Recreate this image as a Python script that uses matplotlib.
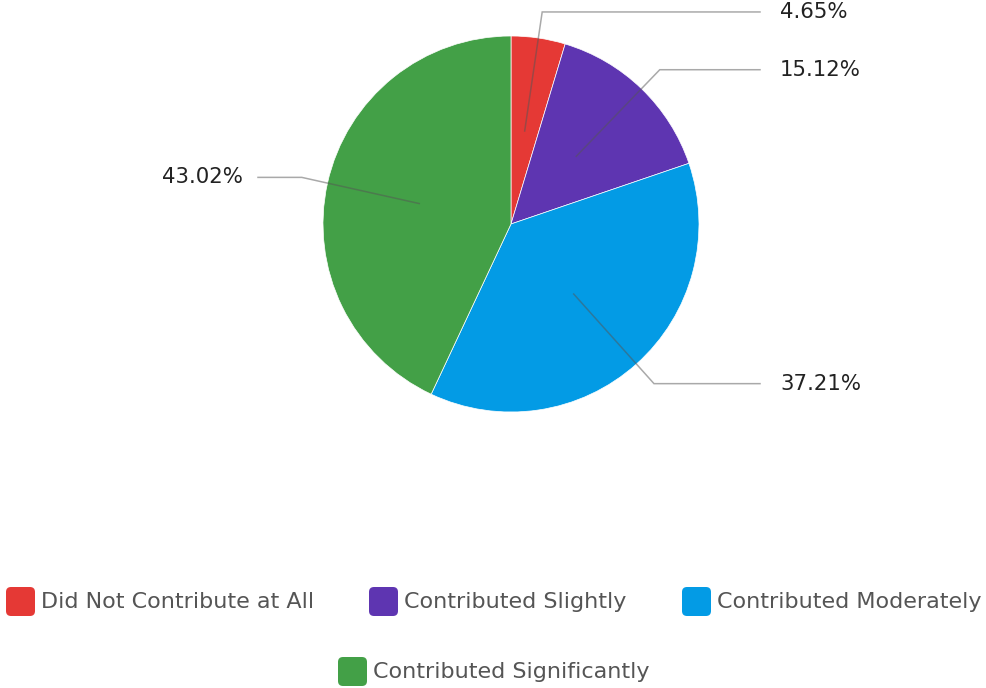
import numpy as np
import matplotlib
matplotlib.use("Agg")
import matplotlib.pyplot as plt
from matplotlib.patches import FancyBboxPatch

categories = [
    "Did Not Contribute at All",
    "Contributed Slightly",
    "Contributed Moderately",
    "Contributed Significantly",
]
shares = [4.65, 15.12, 37.21, 43.02]
labels = ["4.65%", "15.12%", "37.21%", "43.02%"]
colors = ["#E53935", "#5E35B1", "#039BE5", "#43A047"]

plt.rcParams["font.family"] = ["DejaVu Sans"]

W, H = 987, 688
fig = plt.figure(figsize=(W / 100, H / 100), dpi=100)
ax = fig.add_axes([0, 0, 1, 1])

cx, cy, r = 511, H - 224, 188
ax.pie(shares, colors=colors, startangle=90, counterclock=False,
       center=(cx, cy), radius=r, frame=True,
       wedgeprops=dict(linewidth=0.5, edgecolor="white"))
ax.set_xlim(0, W)
ax.set_ylim(0, H)
ax.set_aspect("equal")
ax.axis("off")

# leader lines: from half radius to an elbow just outside the pie, then flat
start = 90.0
for share, lab in zip(shares, labels):
    span = share * 3.6
    mid = np.radians(start - span / 2)
    start -= span
    x0, y0 = cx + 0.5 * r * np.cos(mid), cy + 0.5 * r * np.sin(mid)
    x1, y1 = cx + 1.14 * r * np.cos(mid), cy + 1.14 * r * np.sin(mid)
    if np.cos(mid) >= 0:
        x2, tx, ha = 760, 780, "left"
    else:
        x2, tx, ha = 258, 243, "right"
    ax.plot([x0, x1, x2], [y0, y1, y1], color="#555555", alpha=0.5, lw=1.1,
            solid_joinstyle="miter")
    ax.text(tx, y1, lab, ha=ha, va="center", fontsize=15.3, color="#222222")

# legend, wrapped onto two rows
legend_pos = [(5, 602), (368, 602), (681, 602), (337, 672)]
for (lx, ly), name, c in zip(legend_pos, categories, colors):
    box = FancyBboxPatch((lx + 1, H - ly - 14), 29, 29,
                         boxstyle="round,pad=0,rounding_size=5",
                         facecolor=c, edgecolor="none")
    ax.add_patch(box)
    ax.text(lx + 36, H - ly, name, ha="left", va="center", fontsize=16,
            color="#555555")

fig.savefig("out.png", dpi=100)
